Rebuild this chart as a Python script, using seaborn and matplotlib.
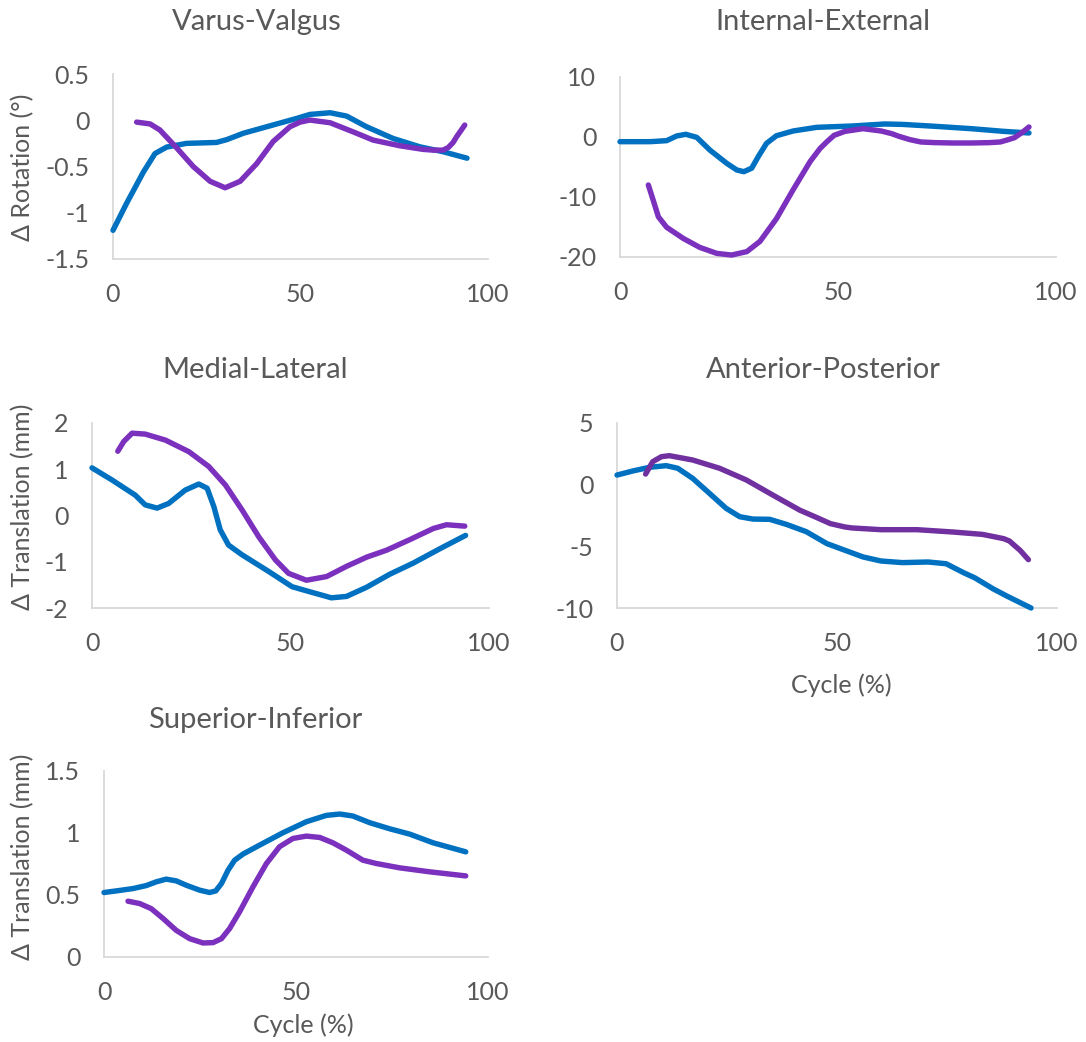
import numpy as np
import pandas as pd
import matplotlib
matplotlib.use("Agg")
import matplotlib.pyplot as plt
import seaborn as sns

sns.set_theme(style="white")
plt.rcParams["font.family"] = ["Lato", "DejaVu Sans"]

BLUE = "#0070C0"
PURPLE = "#7B30BE"
PURPLE_DARK = "#7030A0"
TEXT = "#595959"
AXIS = "#D9D9D9"

# ---- Varus-Valgus rotation (deg) ----
vv_blue_x = [0, 3.6, 8.1, 11.2, 14.3, 19.6, 27.6, 30.3, 34.8, 41.9, 49, 52.5, 57.9, 62.3, 67.6, 74.7, 81.8, 88, 94.4]
vv_blue_y = [-1.19, -0.9, -0.56, -0.36, -0.29, -0.25, -0.24, -0.21, -0.14, -0.06, 0.02, 0.063, 0.081, 0.045, -0.07, -0.197, -0.287, -0.34, -0.41]
vv_purple_x = [6.3, 9.9, 12.5, 17, 21.4, 25.9, 29.9, 33.9, 38.3, 42.7, 47.2, 49.9, 52.5, 57.9, 64, 69.4, 76.5, 82.7, 85.4, 88, 89.4, 90.7, 91.6, 93.8]
vv_purple_y = [-0.02, -0.04, -0.105, -0.30, -0.50, -0.66, -0.73, -0.66, -0.47, -0.23, -0.07, -0.02, 0.002, -0.027, -0.125, -0.215, -0.276, -0.315, -0.323, -0.323, -0.295, -0.24, -0.18, -0.052]

# ---- Internal-External rotation (deg) ----
ie_blue_x = [0, 6.9, 10.7, 13, 15.1, 17.6, 20.6, 24.5, 26.8, 28.4, 30.2, 31.7, 33.6, 35.9, 39.7, 45.1, 53.2, 60.7, 64.8, 72.3, 80.5, 88, 93.8]
ie_blue_y = [-0.78, -0.78, -0.61, 0.17, 0.45, -0.06, -2.17, -4.4, -5.5, -5.78, -5.2, -3.28, -1.06, 0.22, 1.0, 1.61, 1.83, 2.17, 2.1, 1.78, 1.39, 0.94, 0.67]
ie_purple_x = [6.5, 7.6, 8.8, 10.7, 14.5, 18.3, 22.2, 25.6, 29.1, 32.1, 35.9, 39.7, 43.6, 45.9, 47.4, 49.1, 51.6, 53.2, 55.7, 59.9, 62.3, 64, 66.5, 69, 72.3, 76.4, 80.5, 84.7, 87.2, 88.8, 90.5, 91.7, 92.5, 93.8]
ie_purple_y = [-8.0, -10.5, -13.3, -15.05, -16.9, -18.4, -19.4, -19.67, -19.1, -17.4, -13.6, -8.8, -4.1, -1.9, -0.83, 0.28, 0.94, 1.11, 1.39, 1.0, 0.56, 0.11, -0.44, -0.83, -0.94, -1.0, -1.0, -0.94, -0.83, -0.5, -0.11, 0.5, 0.9, 1.67]

# ---- Medial-Lateral translation (mm) ----
ml_blue_x = [0, 5, 10.9, 13.4, 16.4, 19.3, 23.5, 26.9, 29, 30.7, 32.3, 34.4, 37.8, 44.5, 50.4, 54.9, 60.3, 64.1, 69.2, 75, 80.9, 87.6, 94.1]
ml_blue_y = [1.03, 0.77, 0.44, 0.23, 0.16, 0.26, 0.55, 0.68, 0.59, 0.19, -0.31, -0.64, -0.85, -1.21, -1.54, -1.65, -1.78, -1.75, -1.55, -1.27, -1.03, -0.72, -0.43]
ml_purple_x = [6.5, 8.0, 10.1, 13.4, 18.5, 24.4, 29.4, 33.6, 37.8, 42, 46.2, 49.5, 54, 59.1, 64.1, 69.2, 74.2, 80.1, 86, 89.3, 93.9]
ml_purple_y = [1.39, 1.6, 1.78, 1.76, 1.63, 1.38, 1.06, 0.66, 0.12, -0.46, -0.96, -1.25, -1.4, -1.32, -1.1, -0.9, -0.75, -0.52, -0.28, -0.2, -0.23]

# ---- Anterior-Posterior translation (mm) ----
ap_blue_x = [0, 3.6, 7.4, 11.2, 13.8, 17.2, 21, 24.8, 27.9, 30.9, 34.7, 38.5, 43, 47.7, 51.8, 55.9, 60, 64.9, 70.7, 74.8, 78.9, 81.3, 85.5, 88.7, 94.1]
ap_blue_y = [0.78, 1.11, 1.41, 1.54, 1.33, 0.51, -0.7, -1.92, -2.6, -2.79, -2.81, -3.22, -3.81, -4.78, -5.32, -5.86, -6.19, -6.32, -6.27, -6.41, -7.16, -7.55, -8.45, -9.05, -10.0]
ap_purple_x = [6.5, 8.1, 10.1, 11.9, 17.2, 23.3, 29.4, 35.4, 41.5, 45.3, 48.5, 51.8, 53.4, 60, 68.2, 76.4, 83, 84.6, 87.9, 89.2, 90.4, 91.6, 93.5]
ap_purple_y = [0.86, 1.86, 2.27, 2.35, 2.0, 1.33, 0.38, -0.84, -2.06, -2.65, -3.16, -3.43, -3.51, -3.65, -3.65, -3.84, -4.03, -4.14, -4.38, -4.57, -4.95, -5.32, -6.08]

# ---- Superior-Inferior translation (mm) ----
si_blue_x = [0, 3.2, 7.55, 11, 13.6, 16.2, 18.8, 21.4, 24.9, 27.5, 29.1, 30.6, 32.3, 34, 36.2, 40.5, 46.6, 52.7, 57.9, 61.4, 64.8, 69.2, 74.4, 79.6, 85.7, 94.2]
si_blue_y = [0.52, 0.533, 0.552, 0.576, 0.606, 0.628, 0.614, 0.579, 0.539, 0.52, 0.533, 0.593, 0.70, 0.78, 0.83, 0.902, 1.002, 1.091, 1.142, 1.153, 1.137, 1.083, 1.034, 0.991, 0.921, 0.848]
si_purple_x = [6.25, 9.3, 12.3, 15.4, 18.8, 22.3, 25.8, 28.4, 30.6, 32.7, 35.3, 38.8, 42.3, 45.7, 49.2, 52.7, 56.2, 59.6, 63.1, 67.4, 70.9, 77, 84.8, 94.2]
si_purple_y = [0.45, 0.431, 0.39, 0.31, 0.215, 0.148, 0.113, 0.116, 0.148, 0.229, 0.364, 0.566, 0.754, 0.889, 0.956, 0.975, 0.964, 0.921, 0.862, 0.781, 0.754, 0.719, 0.687, 0.654]

x_ticks = [0, 50, 100]

W, H = 1086, 1042
fig = plt.figure(figsize=(W / 100, H / 100), dpi=100)


def px_axes(x0, y0, x1, y1):
    """Create axes from a pixel box (top-left origin)."""
    return fig.add_axes([x0 / W, 1 - y1 / H, (x1 - x0) / W, (y1 - y0) / H])


panels = [
    dict(box=(113, 74, 488, 259), title="Varus-Valgus", tpos=(257, 22),
         blue=(vv_blue_x, vv_blue_y), purple=(vv_purple_x, vv_purple_y), pc=PURPLE,
         ylim=(-1.5, 0.5), yticks=[-1.5, -1, -0.5, 0, 0.5],
         ylabel="Δ Rotation (°)", ylpos=(23, 167), xlabel=None),
    dict(box=(620, 77, 1056, 257), title="Internal-External", tpos=(823, 22),
         blue=(ie_blue_x, ie_blue_y), purple=(ie_purple_x, ie_purple_y), pc=PURPLE,
         ylim=(-20, 10), yticks=[-20, -10, 0, 10],
         ylabel=None, xlabel=None),
    dict(box=(92, 423, 489, 608), title="Medial-Lateral", tpos=(255, 370),
         blue=(ml_blue_x, ml_blue_y), purple=(ml_purple_x, ml_purple_y), pc=PURPLE,
         ylim=(-2, 2), yticks=[-2, -1, 0, 1, 2],
         ylabel="Δ Translation (mm)", ylpos=(23, 507), xlabel=None),
    dict(box=(617, 423, 1057, 608), title="Anterior-Posterior", tpos=(823, 370),
         blue=(ap_blue_x, ap_blue_y), purple=(ap_purple_x, ap_purple_y), pc=PURPLE_DARK,
         ylim=(-10, 5), yticks=[-10, -5, 0, 5],
         ylabel=None, xlabel="Cycle (%)", xlpos=(841, 685)),
    dict(box=(104, 771, 488, 957), title="Superior-Inferior", tpos=(255, 720),
         blue=(si_blue_x, si_blue_y), purple=(si_purple_x, si_purple_y), pc=PURPLE,
         ylim=(0, 1.5), yticks=[0, 0.5, 1, 1.5],
         ylabel="Δ Translation (mm)", ylpos=(23, 857), xlabel="Cycle (%)", xlpos=(303, 1025)),
]


def fmt(v):
    return f"{v:g}"


for p in panels:
    ax = px_axes(*p["box"])
    bx, by = p["blue"]
    qx, qy = p["purple"]
    sns.lineplot(x=bx, y=by, ax=ax, color=BLUE, linewidth=3.9, sort=False,
                 solid_capstyle="round", solid_joinstyle="round")
    sns.lineplot(x=qx, y=qy, ax=ax, color=p["pc"], linewidth=3.9, sort=False,
                 solid_capstyle="round", solid_joinstyle="round")
    ax.set_xlim(0, 100)
    ax.set_ylim(*p["ylim"])
    ax.set_xticks(x_ticks)
    ax.set_xticklabels([fmt(v) for v in x_ticks])
    ax.set_yticks(p["yticks"])
    ax.set_yticklabels([fmt(v) for v in p["yticks"]])
    ax.tick_params(axis="both", length=0, pad=17, labelsize=18, labelcolor=TEXT)
    for side in ("top", "right"):
        ax.spines[side].set_visible(False)
    for side in ("left", "bottom"):
        ax.spines[side].set_color(AXIS)
        ax.spines[side].set_linewidth(1.3)
        ax.spines[side].set_zorder(0)
    ax.set_facecolor("none")
    ax.grid(False)
    ax.set_xlabel("")
    ax.set_ylabel("")
    for ln in ax.lines:
        ln.set_clip_on(False)

    fig.text(p["tpos"][0] / W, 1 - p["tpos"][1] / H, p["title"], ha="center", va="center",
             fontsize=21, color=TEXT)
    if p["ylabel"]:
        fig.text(p["ylpos"][0] / W, 1 - p["ylpos"][1] / H, p["ylabel"], ha="center", va="center",
                 rotation=90, fontsize=18, color=TEXT)
    if p["xlabel"]:
        fig.text(p["xlpos"][0] / W, 1 - p["xlpos"][1] / H, p["xlabel"], ha="center", va="center",
                 fontsize=18, color=TEXT)

fig.savefig("out.png", dpi=100, facecolor="white")
